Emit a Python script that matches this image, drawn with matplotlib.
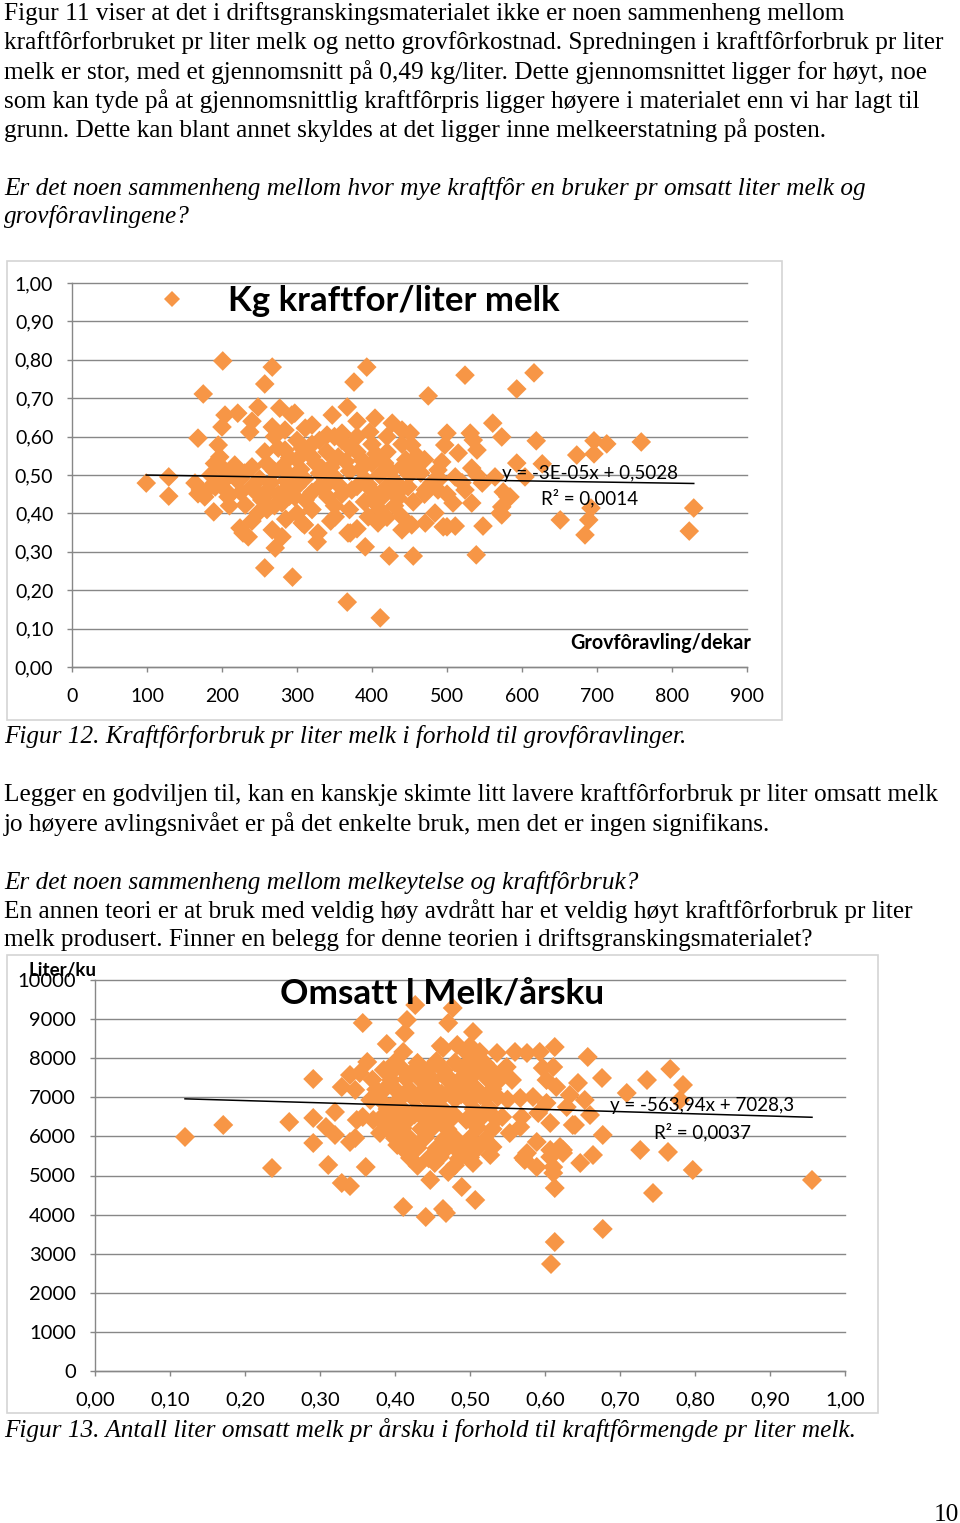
import numpy as np
import matplotlib
matplotlib.use('Agg')
import matplotlib.pyplot as plt
from matplotlib.lines import Line2D
from matplotlib.patches import Rectangle

# ---------------- data: chart 1 (Figur 12) ----------------
series1_name = "Kg kraftfor/liter melk"
xlabel1 = "Grovfôravling/dekar"
x1_ticks = [0, 100, 200, 300, 400, 500, 600, 700, 800, 900]
y1_ticks = [0.0, 0.1, 0.2, 0.3, 0.4, 0.5, 0.6, 0.7, 0.8, 0.9, 1.0]
y1_ticklabels = ["0,00", "0,10", "0,20", "0,30", "0,40", "0,50", "0,60", "0,70", "0,80", "0,90", "1,00"]
trend1_slope = -3e-05
trend1_intercept = 0.5028
trend1_eq = "y = -3E-05x + 0,5028"
trend1_r2 = "R² = 0,0014"

x1 = [99, 129, 129, 175, 168, 168, 201, 257, 267, 257, 294, 367, 411, 376, 393, 475, 524, 593, 616, 539,
      455, 423, 391, 561, 573, 619, 696, 713, 759, 651, 689, 684, 692, 829, 823, 673, 696, 593, 627, 571,
      548, 500, 511, 533, 575, 584, 271, 189, 228, 224, 327, 371,
      500, 531, 535, 540, 451, 453, 457, 497, 515, 493, 488, 533, 511, 564, 604, 448, 471, 488, 524, 547,
      581, 573, 573, 508, 484, 471, 453, 495,
      367, 347, 404, 427, 297, 311, 340, 360, 397, 440, 307, 320, 371, 387, 417, 440, 333, 355, 311, 341,
      373, 400, 431, 307, 328, 368, 408, 440, 440, 351, 395,
      204, 221, 248, 277, 293, 200, 237, 267, 284, 195, 197, 257, 284, 217, 240, 280, 171, 191, 208, 240,
      261, 288, 231, 248, 280, 235, 267, 280, 177, 164, 201, 220, 297, 253,
      210, 230, 250, 270, 290, 310, 330, 350, 370, 390, 410, 430, 450, 300, 320, 340, 360, 380, 400, 420,
      440, 260, 300, 320, 340, 360, 380, 400, 420, 400, 420, 440, 460, 350, 370, 390, 410, 430, 320, 300,
      260, 285, 310, 345, 380, 420, 455, 470, 500, 520, 540, 490, 470, 270, 300, 330, 255, 275, 240, 210,
      200, 185, 225, 185, 205, 225, 245, 265, 285, 305, 325, 345, 365, 385, 405, 425, 445, 465, 480, 355,
      395, 415, 435, 330, 290, 270, 290, 275, 350, 380, 320, 380, 240, 190]
y1 = [0.479, 0.495, 0.445, 0.711, 0.596, 0.451, 0.797, 0.737, 0.781, 0.258, 0.234, 0.169, 0.128, 0.742, 0.781, 0.706, 0.760, 0.724, 0.766, 0.292,
      0.289, 0.289, 0.313, 0.635, 0.599, 0.589, 0.589, 0.581, 0.586, 0.383, 0.383, 0.344, 0.414, 0.414, 0.354, 0.552, 0.555, 0.531, 0.529, 0.401,
      0.367, 0.365, 0.367, 0.427, 0.456, 0.443, 0.310, 0.404, 0.349, 0.362, 0.326, 0.349,
      0.609, 0.609, 0.591, 0.565, 0.609, 0.578, 0.521, 0.578, 0.557, 0.534, 0.513, 0.518, 0.495, 0.495, 0.495, 0.469, 0.461, 0.461, 0.461, 0.479,
      0.443, 0.417, 0.396, 0.427, 0.401, 0.375, 0.370, 0.365,
      0.677, 0.656, 0.648, 0.635, 0.661, 0.622, 0.604, 0.609, 0.612, 0.617, 0.570, 0.547, 0.570, 0.539, 0.531, 0.521, 0.518, 0.547, 0.435, 0.443,
      0.461, 0.435, 0.453, 0.375, 0.349, 0.349, 0.375, 0.391, 0.357, 0.391, 0.391,
      0.656, 0.661, 0.677, 0.674, 0.656, 0.625, 0.612, 0.625, 0.617, 0.578, 0.547, 0.560, 0.565, 0.526, 0.521, 0.521, 0.461, 0.469, 0.443, 0.469,
      0.461, 0.469, 0.422, 0.401, 0.427, 0.339, 0.357, 0.339, 0.443, 0.479, 0.482, 0.487, 0.443, 0.435,
      0.500, 0.505, 0.490, 0.510, 0.500, 0.490, 0.505, 0.495, 0.510, 0.490, 0.500, 0.485, 0.500, 0.470, 0.455, 0.475, 0.450, 0.470, 0.460, 0.470,
      0.465, 0.530, 0.540, 0.580, 0.560, 0.590, 0.560, 0.580, 0.560, 0.530, 0.600, 0.580, 0.550, 0.420, 0.410, 0.430, 0.410, 0.420, 0.410, 0.400,
      0.410, 0.385, 0.370, 0.380, 0.360, 0.390, 0.430, 0.450, 0.450, 0.480, 0.500, 0.490, 0.540, 0.600, 0.590, 0.590, 0.440, 0.450, 0.380, 0.420,
      0.520, 0.500, 0.490, 0.470, 0.460, 0.455, 0.455, 0.480, 0.485, 0.515, 0.530, 0.520, 0.535, 0.515, 0.555, 0.510, 0.540, 0.505, 0.480, 0.475,
      0.475, 0.445, 0.440, 0.470, 0.445, 0.420, 0.545, 0.570, 0.600, 0.600, 0.630, 0.640, 0.640, 0.530]

# ---------------- data: chart 2 (Figur 13) ----------------
title2 = "Omsatt l Melk/årsku"
ylabel2 = "Liter/ku"
x2_ticks = [0.0, 0.1, 0.2, 0.3, 0.4, 0.5, 0.6, 0.7, 0.8, 0.9, 1.0]
x2_ticklabels = ["0,00", "0,10", "0,20", "0,30", "0,40", "0,50", "0,60", "0,70", "0,80", "0,90", "1,00"]
y2_ticks = [0, 1000, 2000, 3000, 4000, 5000, 6000, 7000, 8000, 9000, 10000]
trend2_slope = -563.94
trend2_intercept = 7028.3
trend2_eq = "y = -563,94x + 7028,3"
trend2_r2 = "R² = 0,0037"

x2 = [0.120, 0.171, 0.236, 0.259, 0.291, 0.291, 0.291, 0.308, 0.320, 0.320, 0.311, 0.329, 0.340, 0.340, 0.347, 0.329, 0.340, 0.347, 0.353, 0.357,
      0.363, 0.389, 0.361, 0.411, 0.416, 0.427, 0.413, 0.411, 0.441, 0.468, 0.453, 0.471, 0.447, 0.489, 0.483, 0.477, 0.471, 0.504, 0.464, 0.483,
      0.496, 0.513, 0.507, 0.464, 0.403, 0.504, 0.527,
      0.349, 0.357, 0.371, 0.380, 0.393, 0.367, 0.389, 0.393, 0.377,
      0.613, 0.657, 0.560, 0.593, 0.767, 0.736, 0.676, 0.784, 0.709, 0.644, 0.653, 0.780, 0.637, 0.660, 0.677, 0.727, 0.764, 0.797, 0.664, 0.647,
      0.956, 0.744, 0.613, 0.677, 0.613, 0.608,
      0.576, 0.549, 0.597, 0.611, 0.556, 0.602, 0.615, 0.537, 0.567, 0.584, 0.633, 0.602, 0.629, 0.543, 0.569, 0.591, 0.607, 0.640, 0.553, 0.567,
      0.589, 0.576, 0.620, 0.573, 0.589, 0.607, 0.611, 0.624, 0.611, 0.571, 0.607, 0.624,
      0.400, 0.430, 0.455, 0.480, 0.500, 0.520,
      0.385, 0.410, 0.425, 0.445, 0.465, 0.490, 0.510, 0.530, 0.545,
      0.370, 0.395, 0.415, 0.435, 0.450, 0.470, 0.485, 0.500, 0.525, 0.540,
      0.375, 0.400, 0.420, 0.440, 0.455, 0.475, 0.490, 0.510, 0.530,
      0.380, 0.405, 0.425, 0.445, 0.460, 0.480, 0.500, 0.520, 0.550,
      0.390, 0.410, 0.430, 0.450, 0.465, 0.505, 0.525,
      0.380, 0.400, 0.420, 0.440, 0.460, 0.475, 0.495, 0.515, 0.535,
      0.390, 0.410, 0.435, 0.450, 0.470, 0.510, 0.530,
      0.400, 0.420, 0.440, 0.465, 0.480, 0.500, 0.520,
      0.410, 0.430, 0.455, 0.470, 0.490, 0.510, 0.530,
      0.420, 0.445, 0.460, 0.485, 0.500,
      0.430, 0.480, 0.461, 0.500, 0.536,
      0.392, 0.418, 0.442, 0.468, 0.492, 0.518, 0.412, 0.438, 0.462, 0.488, 0.514, 0.398, 0.426, 0.452, 0.478, 0.502]
y2 = [5985, 6292, 5192, 6368, 7468, 6471, 5831, 6240, 6036, 6624, 5269, 4808, 4731, 5857, 5959, 7263, 7570, 7187, 7621, 8900,
      7903, 8363, 5217, 4194, 8977, 9360, 8644, 8159, 3939, 4041, 5320, 5090, 4885, 4706, 5652, 9284, 8900, 8670, 8261, 8338,
      8133, 8159, 4373, 4143, 5780, 5320, 5524,
      6419, 6496, 6419, 6087, 6752, 6931, 7263, 7698, 7110,
      8286, 8031, 8159, 8159, 7724, 7442, 7494, 7315, 7110, 7366, 6931, 6931, 6292, 6547, 6036, 5652, 5601, 5141, 5524, 5320,
      4885, 4552, 4680, 3632, 3299, 2737,
      8133, 7775, 7749, 7775, 7442, 7442, 7263, 7008, 6982, 7008, 7059, 6854, 6752, 6496, 6496, 6598, 6343, 6292, 6087, 6240,
      5857, 5575, 5729, 5396, 5217, 5473, 5217, 5575, 5064, 5448, 5652, 5652,
      7900, 7880, 7920, 7890, 7930, 7870,
      7700, 7720, 7680, 7710, 7690, 7730, 7700, 7670, 7710,
      7450, 7440, 7470, 7430, 7460, 7450, 7420, 7480, 7440, 7460,
      7200, 7210, 7190, 7220, 7180, 7200, 7230, 7190, 7210,
      6950, 6940, 6970, 6930, 6960, 6950, 6920, 6980, 6940,
      6700, 6710, 6690, 6720, 6680, 6700, 6730,
      6450, 6440, 6470, 6430, 6460, 6450, 6420, 6480, 6440,
      6200, 6210, 6190, 6220, 6180, 6230, 6190,
      5950, 5940, 5970, 5930, 5960, 5950, 5920,
      5700, 5710, 5690, 5720, 5680, 5700, 5730,
      5450, 5440, 5470, 5430, 5460,
      5250, 5260, 8312, 8312, 8133,
      7580, 7560, 7590, 7570, 7550, 7600, 7080, 7060, 7090, 7070, 7050, 6580, 6560, 6590, 6570, 6550]

# ---------------- page text ----------------
body_lines = [
    (14, "Figur 11 viser at det i driftsgranskingsmaterialet ikke er noen sammenheng mellom", False),
    (43, "kraftfôrforbruket pr liter melk og netto grovfôrkostnad. Spredningen i kraftfôrforbruk pr liter", False),
    (72, "melk er stor, med et gjennomsnitt på 0,49 kg/liter. Dette gjennomsnittet ligger for høyt, noe", False),
    (101, "som kan tyde på at gjennomsnittlig kraftfôrpris ligger høyere i materialet enn vi har lagt til", False),
    (130, "grunn. Dette kan blant annet skyldes at det ligger inne melkeerstatning på posten.", False),
    (188, "Er det noen sammenheng mellom hvor mye kraftfôr en bruker pr omsatt liter melk og", True),
    (217, "grovfôravlingene?", True),
    (737, "Figur 12. Kraftfôrforbruk pr liter melk i forhold til grovfôravlinger.", True),
    (795, "Legger en godviljen til, kan en kanskje skimte litt lavere kraftfôrforbruk pr liter omsatt melk", False),
    (824, "jo høyere avlingsnivået er på det enkelte bruk, men det er ingen signifikans.", False),
    (882, "Er det noen sammenheng mellom melkeytelse og kraftfôrbruk?", True),
    (911, "En annen teori er at bruk med veldig høy avdrått har et veldig høyt kraftfôrforbruk pr liter", False),
    (940, "melk produsert. Finner en belegg for denne teorien i driftsgranskingsmaterialet?", False),
    (1430, "Figur 13. Antall liter omsatt melk pr årsku i forhold til kraftfôrmengde pr liter melk.", True),
]
page_number = "10"

# ---------------- drawing ----------------
W, H = 960, 1523
fig = plt.figure(figsize=(W / 100, H / 100), dpi=100)

def fx(px):
    return px / W

def fy(py):
    return 1 - py / H

SERIF = ['Liberation Serif', 'DejaVu Serif']
SANS = ['Lato', 'DejaVu Sans']
ORANGE = '#F79646'
GRID = '#878787'
BODY_FS = 18.2

for yy, txt, it in body_lines:
    fig.text(fx(4), fy(yy), txt, family=SERIF, fontsize=BODY_FS,
             style='italic' if it else 'normal', ha='left', va='center')
fig.text(fx(959), fy(1515), page_number, family=SERIF, fontsize=BODY_FS, ha='right', va='center')

# chart borders
fig.add_artist(Rectangle((fx(7), fy(720)), fx(782) - fx(7), (720 - 261) / H, transform=fig.transFigure,
                         fill=False, edgecolor='#d4d4d4', lw=1.2))
fig.add_artist(Rectangle((fx(7), fy(1413)), fx(878) - fx(7), (1413 - 955) / H, transform=fig.transFigure,
                         fill=False, edgecolor='#d4d4d4', lw=1.2))


def style_axes(ax, fs):
    for s in ['top', 'right']:
        ax.spines[s].set_visible(False)
    for s in ['left', 'bottom']:
        ax.spines[s].set_color(GRID)
        ax.spines[s].set_linewidth(1.0)
    ax.grid(axis='y', color=GRID, lw=1.0, zorder=0)
    ax.set_axisbelow(True)
    for gl in ax.get_ygridlines():
        gl.set_clip_on(False)
    ax.tick_params(axis='both', colors=GRID, labelcolor='black', length=3.5, width=1.0, labelsize=fs)
    ax.tick_params(axis='y', pad=10)
    ax.tick_params(axis='x', pad=11.5)
    for lab in ax.get_xticklabels() + ax.get_yticklabels():
        lab.set_family(SANS)


MS = 100

# chart 1
ax1 = fig.add_axes([fx(72), fy(667), fx(747) - fx(72), (667 - 283) / H])
ax1.scatter(x1, y1, marker='D', s=MS, color=ORANGE, edgecolors='none', zorder=3)
xs1 = np.array([min(x1), max(x1)])
ax1.plot(xs1, trend1_slope * xs1 + trend1_intercept, color='black', lw=1.1, zorder=4)
ax1.set_xlim(0, 900)
ax1.set_ylim(0, 1)
ax1.set_xticks(x1_ticks)
ax1.set_xticklabels([str(t) for t in x1_ticks])
ax1.set_yticks(y1_ticks)
ax1.set_yticklabels(y1_ticklabels)
style_axes(ax1, 14)
h = Line2D([], [], marker='D', ls='none', color=ORANGE, markersize=8.5, markeredgewidth=0)
ax1.legend([h], [series1_name], loc='center left', bbox_to_anchor=(fx(154.6), fy(301)),
           bbox_transform=fig.transFigure, frameon=False, borderpad=0, borderaxespad=0,
           handlelength=1.0, handletextpad=1.11, prop=dict(family=SANS, weight='bold', size=25))
fig.text(fx(661), fy(643), xlabel1, family=SANS, weight='bold', fontsize=14.2, ha='center', va='center')
fig.text(fx(590), fy(473), trend1_eq, family=SANS, fontsize=13.5, ha='center', va='center', zorder=10)
fig.text(fx(590), fy(498), trend1_r2, family=SANS, fontsize=13.5, ha='center', va='center', zorder=10)

# chart 2
ax2 = fig.add_axes([fx(95), fy(1371), fx(845) - fx(95), (1371 - 980) / H])
ax2.scatter(x2, y2, marker='D', s=MS + 4, color=ORANGE, edgecolors='none', zorder=3)
xs2 = np.array([min(x2), max(x2)])
ax2.plot(xs2, trend2_slope * xs2 + trend2_intercept, color='black', lw=1.1, zorder=4)
ax2.set_xlim(0, 1)
ax2.set_ylim(0, 10000)
ax2.set_xticks(x2_ticks)
ax2.set_xticklabels(x2_ticklabels)
ax2.set_yticks(y2_ticks)
ax2.set_yticklabels([str(t) for t in y2_ticks])
style_axes(ax2, 14.5)
fig.text(fx(442), fy(995), title2, family=SANS, weight='bold', fontsize=25.3, ha='center', va='center')
fig.text(fx(63), fy(970), ylabel2, family=SANS, weight='bold', fontsize=13.5, ha='center', va='center')
fig.text(fx(702), fy(1106), trend2_eq, family=SANS, fontsize=13.5, ha='center', va='center', zorder=10)
fig.text(fx(702), fy(1132), trend2_r2, family=SANS, fontsize=13.5, ha='center', va='center', zorder=10)

fig.savefig('out.png', dpi=100)
